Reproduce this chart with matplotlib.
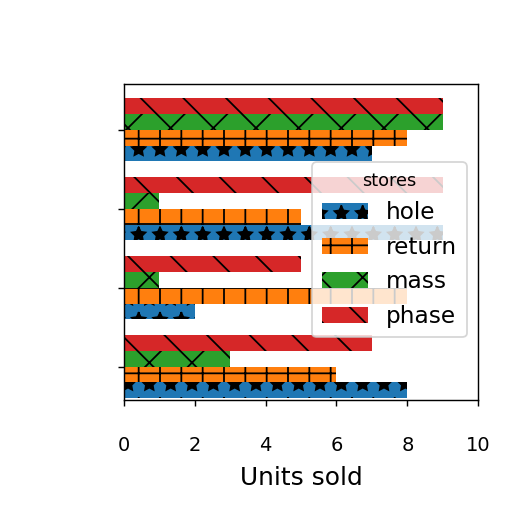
import matplotlib
matplotlib.use("Agg")
import matplotlib.pyplot as plt
import numpy as np

groups = [0, 1, 2, 3]
series = ["hole", "return", "mass", "phase"]
hole = [8, 2, 9, 7]
ret = [6, 8, 5, 8]
mass = [3, 1, 1, 9]
phase = [7, 5, 9, 9]
values = [hole, ret, mass, phase]
hatches = ["*", "+", "x", "\\"]
colors = ["#1f77b4", "#ff7f0e", "#2ca02c", "#d62728"]

fig = plt.figure(figsize=(4, 4), dpi=128)
ax = fig.add_axes([0.242, 0.219, 0.692, 0.617])

y = np.arange(len(groups))
h = 0.2
for i, (name, vals) in enumerate(zip(series, values)):
    ax.barh(y + (i - 1.5) * h, vals, height=h, color=colors[i],
            hatch=hatches[i], label=name)

ax.set_yticks(y)
ax.set_yticklabels([])
ax.set_xlim(0, 10)
ax.set_ylim(-0.42, 3.58)
ax.set_xticks([0, 2, 4, 6, 8, 10])
ax.tick_params(axis="x", labelsize=11, pad=17)
ax.set_xlabel("Units sold", fontsize=14, labelpad=6)
ax.legend(title="stores", fontsize=13, title_fontsize=10,
          loc="center right", bbox_to_anchor=(1, 0.475))

fig.savefig("out.png", dpi=128)
